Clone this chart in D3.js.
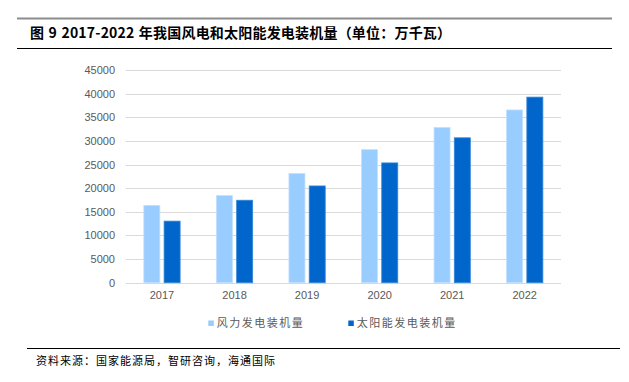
<!DOCTYPE html>
<html>
<head>
<meta charset="utf-8">
<script src="https://cdn.jsdelivr.net/npm/d3@7"></script>
<style>
    body { margin: 0; background: #fff; }
    svg { display: block; }
</style>
</head>
<body>
<div id="chart"></div>
<script>
// datos (unidad: 万千瓦)
const years = ['2017', '2018', '2019', '2020', '2021', '2022'];
const windValues = [16367, 18426, 23100, 28153, 32848, 36544];
const solarValues = [13025, 17446, 20468, 25343, 30656, 39261];
const seriesNames = ['风力发电装机量', '太阳能发电装机量'];
const yTicks = [0, 5000, 10000, 15000, 20000, 25000, 30000, 35000, 40000, 45000];

const titleText = '图 9 2017-2022 年我国风电和太阳能发电装机量（单位：万千瓦）';
const sourceText = '资料来源：国家能源局，智研咨询，海通国际';

const width = 629;
const height = 382;
const colors = ['#99CCFF', '#0066CC'];
const cjk = '"Noto Sans CJK SC", "Noto Sans", sans-serif';

const svg = d3.select('#chart')
              .append('svg')
              .attr('width', width)
              .attr('height', height);

// cabecera
svg.append('line')
   .attr('x1', 17).attr('x2', 612)
   .attr('y1', 18.5).attr('y2', 18.5)
   .attr('stroke', '#8c8c8c')
   .attr('stroke-width', 2);

svg.append('text')
   .attr('x', 30)
   .attr('y', 33)
   .attr('dy', '0.35em')
   .attr('font-family', cjk)
   .attr('font-size', '14px')
   .attr('font-weight', 'bold')
   .attr('letter-spacing', '0.2px')
   .attr('word-spacing', '1px')
   .attr('fill', '#000')
   .text(titleText);

svg.append('line')
   .attr('x1', 17).attr('x2', 612)
   .attr('y1', 48.5).attr('y2', 48.5)
   .attr('stroke', '#000')
   .attr('stroke-width', 1);

// escalas
const x = d3.scaleBand()
            .domain(years)
            .range([125.7, 561])
            .padding(0);

const xInner = d3.scaleBand()
                 .domain([0, 1])
                 .range([x.bandwidth() * 0.25, x.bandwidth() * 0.75])
                 .paddingInner(0.21);

const y = d3.scaleLinear()
            .domain([0, 45000])
            .range([282.7, 70]);

// rejilla
svg.append('g')
   .selectAll('line')
   .data(yTicks)
   .join('line')
   .attr('x1', 125.7)
   .attr('x2', 561)
   .attr('y1', d => Math.round(y(d)) + 0.5)
   .attr('y2', d => Math.round(y(d)) + 0.5)
   .attr('stroke', '#d9d9d9')
   .attr('stroke-width', 1);

// eje y
const yAxis = svg.append('g')
                 .attr('transform', 'translate(115,0)')
                 .call(d3.axisLeft(y).tickValues(yTicks).tickSize(0).tickPadding(0).tickFormat(d3.format('d')));
yAxis.select('.domain').remove();
yAxis.selectAll('text')
     .attr('font-family', '"Liberation Sans", Arial, sans-serif')
     .attr('font-size', '11px')
     .attr('fill', '#595959');

// eje x
const xAxis = svg.append('g')
                 .attr('transform', 'translate(0,291)')
                 .call(d3.axisBottom(x).tickSize(0).tickPadding(0));
xAxis.select('.domain').remove();
xAxis.selectAll('text')
     .attr('font-family', '"Liberation Sans", Arial, sans-serif')
     .attr('font-size', '11px')
     .attr('fill', '#595959');

// barras
const seriesData = [windValues, solarValues];
seriesData.forEach((values, s) => {
    svg.append('g')
       .selectAll('rect')
       .data(values)
       .join('rect')
       .attr('x', (d, i) => x(years[i]) + xInner(s))
       .attr('y', d => y(d))
       .attr('width', xInner.bandwidth())
       .attr('height', d => y(0) - y(d))
       .attr('fill', colors[s])
       .attr('stroke', s === 0 ? '#c2e0ff' : '#3385d6')
       .attr('stroke-width', 0.8);
});

// leyenda
const legendItems = [
    { name: seriesNames[0], color: colors[0], x: 208.3 },
    { name: seriesNames[1], color: colors[1], x: 348.3 }
];
const legend = svg.append('g');
legendItems.forEach(item => {
    legend.append('rect')
          .attr('x', item.x)
          .attr('y', 320.5)
          .attr('width', 5.5)
          .attr('height', 5.5)
          .attr('fill', item.color);
    legend.append('text')
          .attr('x', item.x + 8.5)
          .attr('y', 323.5)
          .attr('dy', '0.35em')
          .attr('font-family', cjk)
          .attr('font-size', '11px')
          .attr('letter-spacing', '1.5px')
          .attr('fill', '#595959')
          .text(item.name);
});

// pie
svg.append('line')
   .attr('x1', 27).attr('x2', 620)
   .attr('y1', 348.5).attr('y2', 348.5)
   .attr('stroke', '#000')
   .attr('stroke-width', 1);

svg.append('text')
   .attr('x', 36)
   .attr('y', 361)
   .attr('dy', '0.35em')
   .attr('font-family', cjk)
   .attr('font-size', '11px')
   .attr('letter-spacing', '1px')
   .attr('fill', '#000')
   .text(sourceText);
</script>
</body>
</html>
